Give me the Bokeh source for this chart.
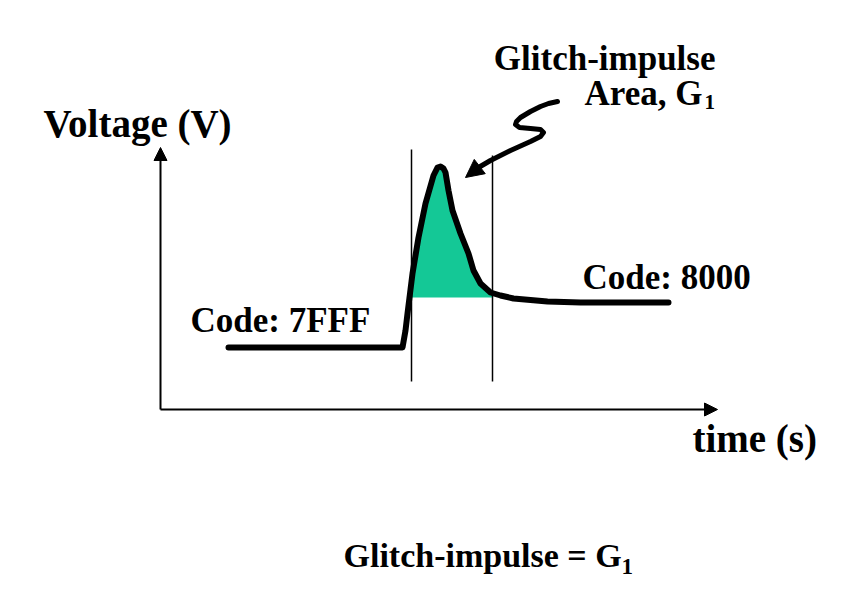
from bokeh.plotting import figure
from bokeh.models import Range1d, Arrow, NormalHead
from bokeh.core.properties import value
from bokeh.embed import file_html
from bokeh.resources import INLINE

# Waveform (time units, voltage units) – origin at the axes corner
time = [68, 242, 245, 247, 252, 258, 265, 273, 277, 280, 283, 285, 288, 292,
        300, 308, 313, 320, 330, 340, 353, 387, 420, 508]
voltage = [62, 62, 79, 96, 136, 172, 206, 234, 242, 243, 241, 237, 219, 199,
           176, 156, 139, 126, 117, 114, 111, 108, 107, 107]

# Glitch area (shaded region between the two markers)
area_time = [250, 252, 258, 265, 273, 277, 280, 283, 285, 288, 292, 300, 308,
             313, 320, 330, 332]
area_top = [120, 136, 172, 206, 234, 242, 243, 241, 237, 219, 199, 176, 156,
            139, 126, 117, 116]
area_base = 112

# Window markers
marker_time = [251, 332]
marker_top = [260, 254]
marker_bottom = 28

# Axis extents
t_axis_end = 557
v_axis_end = 262

# Squiggle pointer
squig_t = [397, 388, 380, 370, 360, 356, 355, 359, 370, 380, 383, 380, 370,
           350, 330, 318]
squig_v = [308, 306, 303, 298, 292, 288, 285, 282, 281, 280, 277, 273, 268,
           259, 249, 242]
squig_tip = (305, 232)

FONT = value("Liberation Serif")
GREEN = "#14C896"

p = figure(width=838, height=592, output_backend="svg", toolbar_location=None,
           x_range=Range1d(-160, 678), y_range=Range1d(-183, 409),
           x_axis_type=None, y_axis_type=None, min_border=0)
p.outline_line_color = None
p.grid.visible = False
p.background_fill_color = "white"
p.border_fill_color = "white"

# shaded area
p.varea(x=area_time, y1=[area_base] * len(area_time), y2=area_top,
        fill_color=GREEN)

# window markers
for t, top in zip(marker_time, marker_top):
    p.segment(x0=[t], y0=[marker_bottom], x1=[t], y1=[top],
              line_color="black", line_width=1.5)

# axes with arrows
p.add_layout(Arrow(x_start=0, y_start=0, x_end=0, y_end=v_axis_end,
                   line_width=2, line_color="black",
                   end=NormalHead(size=13, fill_color="black", line_color="black")))
p.add_layout(Arrow(x_start=0, y_start=0, x_end=t_axis_end, y_end=0,
                   line_width=2, line_color="black",
                   end=NormalHead(size=13, fill_color="black", line_color="black")))

# waveform
p.line(time, voltage, line_color="black", line_width=6,
       line_join="round", line_cap="round")

# squiggle pointer
p.line(squig_t, squig_v, line_color="black", line_width=5,
       line_join="round", line_cap="round")
p.add_layout(Arrow(x_start=squig_t[-1], y_start=squig_v[-1],
                   x_end=squig_tip[0], y_end=squig_tip[1],
                   line_width=5, line_color="black",
                   end=NormalHead(size=18, fill_color="black", line_color="black")))

def label(x, y, txt, size, align="left"):
    p.text(x=[x], y=[y], text=[txt], text_font=FONT, text_font_style="bold",
           text_font_size=size, text_align=align, text_baseline="alphabetic",
           text_color="black")

label(-117, 286, "Voltage (V)", "39px")
label(532, -29, "time (s)", "39px")
label(30, 89, "Code: 7FFF", "35px")
label(422, 132, "Code: 8000", "35px")
label(555, 351, "Glitch-impulse", "35px", "right")
label(542, 316, "Area, G", "35px", "right")
label(544, 308, "1", "21px")
label(183, -146, "Glitch-impulse = G", "34px")
label(461, -157, "1", "23px")

html = file_html(p, INLINE)
open("out.html", "w").write(html)
